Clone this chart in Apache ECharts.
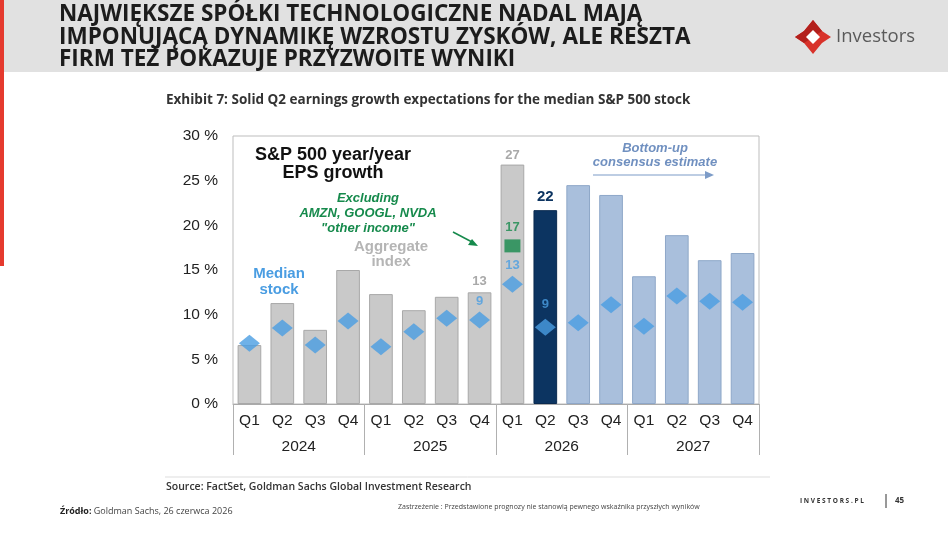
<!DOCTYPE html>
<html><head><meta charset="utf-8">
<script src="https://cdn.jsdelivr.net/npm/echarts@6/dist/echarts.min.js"></script>
<style>html,body{margin:0;padding:0;background:#fff}#c{width:948px;height:533px}</style>
</head><body><div id="c"></div>
<script>
const quarters = ['Q1','Q2','Q3','Q4','Q1','Q2','Q3','Q4','Q1','Q2','Q3','Q4','Q1','Q2','Q3','Q4'];
const years = ['2024','2025','2026','2027'];
const epsGrowth = [6.6, 11.3, 8.3, 15.0, 12.3, 10.5, 12.0, 12.5, 26.8, 21.7, 24.5, 23.4, 14.3, 18.9, 16.1, 16.9];
const medianGrowth = [6.8, 8.5, 6.6, 9.3, 6.4, 8.1, 9.6, 9.4, 13.4, 8.6, 9.1, 11.1, 8.7, 12.1, 11.5, 11.4];
const exclOtherIncome = [null,null,null,null,null,null,null,null,17.7,null,null,null,null,null,null,null];
const barLabels = {7:'13', 8:'27', 9:'22'};
const medianLabels = {7:'9', 8:'13', 9:'9'};
const yTicks = [0,5,10,15,20,25,30];

const GRAY='#c9c9c9', NAVY='#0c3461', LBLUE='#a9bfdc', DIAM='#4a9de2', GREEN='#168a4c';
const F = 'Liberation Sans, Arial, sans-serif';
const OS = '"Open Sans", sans-serif';

const barData = epsGrowth.map((v,i)=>{
  const c = i<=8 ? GRAY : (i===9 ? NAVY : LBLUE);
  const b = i<=8 ? '#a8a8a8' : (i===9 ? '#0a2a50' : '#8ea7c8');
  const item = {value:v, itemStyle:{color:c, borderColor:b, borderWidth:1}};
  if (barLabels[i]) {
    const lc = i===9 ? NAVY : '#a9a9a9';
    item.label = {show:true, position:'top', formatter:barLabels[i], color:lc, fontSize:i===9?15:13, fontWeight:'bold', fontFamily:F, distance:i===8?3:(i===7?4:6)};
  }
  return item;
});
const medData = medianGrowth.map((v,i)=>{
  const item = {value:v};
  if (medianLabels[i]) item.label = {show:true, position:'top', formatter:medianLabels[i], color:DIAM, fontSize:13, fontWeight:'bold', fontFamily:F, distance:i===9?8:4};
  return item;
});
const exData = exclOtherIncome.map((v,i)=>{
  if (v==null) return null;
  return {value:v, label:{show:true, position:'top', formatter:'17', color:GREEN, fontSize:13, fontWeight:'bold', fontFamily:F, distance:5}};
});

const chart = echarts.init(document.getElementById('c'));

function txt(x,y,t,o){ return {type:'text', x:x, y:y, style:Object.assign({text:t, fill:'#222', font:'12px '+F, textVerticalAlign:'middle'}, o||{})}; }

const TF = 'bold 22.5px '+OS;
const graphics = [
  {type:'rect', shape:{x:0,y:0,width:948,height:72}, style:{fill:'#e1e1e1'}, z:-1},
  {type:'rect', shape:{x:0,y:0,width:4,height:266}, style:{fill:'#e53a2e'}},
  txt(59,15,'NAJWIĘKSZE SPÓŁKI TECHNOLOGICZNE NADAL MAJĄ',{fill:'#1c1c1c', font:TF}),
  txt(59,37.5,'IMPONUJĄCĄ DYNAMIKĘ WZROSTU ZYSKÓW, ALE RESZTA',{fill:'#1c1c1c', font:TF}),
  txt(59,60,'FIRM TEŻ POKAZUJE PRZYZWOITE WYNIKI',{fill:'#1c1c1c', font:TF}),
  // logo
  {type:'polygon', shape:{points:[[813,20],[822,31],[831,37],[822,43],[813,54],[804,43],[795,37],[804,31]]}, style:{fill:'#d8322a'}},
  {type:'polygon', shape:{points:[[813,20],[822,31],[813,37],[804,43],[795,37],[804,31]]}, style:{fill:'#b3201c'}},
  {type:'polygon', shape:{points:[[813,30],[820,37],[813,44],[806,37]]}, style:{fill:'#ffffff'}},
  txt(836,37,'Investors',{fill:'#5a5a5a', font:'18.5px '+OS}),
  txt(166,100,'Exhibit 7: Solid Q2 earnings growth expectations for the median S&P 500 stock',{fill:'#333', font:'bold 13.5px '+OS}),
  // annotations
  txt(333,155,'S&P 500 year/year',{fill:'#111', font:'bold 18px '+F, textAlign:'center'}),
  txt(333,173,'EPS growth',{fill:'#111', font:'bold 18px '+F, textAlign:'center'}),
  txt(368,198,'Excluding',{fill:GREEN, font:'italic bold 13px '+F, textAlign:'center'}),
  txt(368,213,'AMZN, GOOGL, NVDA',{fill:GREEN, font:'italic bold 13px '+F, textAlign:'center'}),
  txt(368,228,'"other income"',{fill:GREEN, font:'italic bold 13px '+F, textAlign:'center'}),
  {type:'line', shape:{x1:453,y1:232,x2:472,y2:242}, style:{stroke:GREEN, lineWidth:1.5}},
  {type:'polygon', shape:{points:[[478,246],[468,245],[472,239]]}, style:{fill:GREEN}},
  txt(391,247,'Aggregate',{fill:'#b5b5b5', font:'bold 15px '+F, textAlign:'center'}),
  txt(391,262,'index',{fill:'#b5b5b5', font:'bold 15px '+F, textAlign:'center'}),
  txt(279,274,'Median',{fill:DIAM, font:'bold 15px '+F, textAlign:'center'}),
  txt(279,290,'stock',{fill:DIAM, font:'bold 15px '+F, textAlign:'center'}),
  txt(655,148,'Bottom-up',{fill:'#7090c0', font:'italic bold 13px '+F, textAlign:'center'}),
  txt(655,162,'consensus estimate',{fill:'#7090c0', font:'italic bold 13px '+F, textAlign:'center'}),
  {type:'line', shape:{x1:593,y1:175,x2:706,y2:175}, style:{stroke:'#7d9cc8', lineWidth:1.2}},
  {type:'polygon', shape:{points:[[714,175],[705,171],[705,179]]}, style:{fill:'#7d9cc8'}},
  // footer
  {type:'line', shape:{x1:165,y1:477,x2:770,y2:477}, style:{stroke:'#dddddd', lineWidth:1}},
  txt(166,487,'Source: FactSet, Goldman Sachs Global Investment Research',{fill:'#333', font:'600 10.5px '+OS}),
  {type:'text', x:60, y:511, style:{rich:{b:{font:'bold 9px '+OS, fill:'#222'}, n:{font:'9px '+OS, fill:'#444'}}, text:'{b|Źródło:}{n| Goldman Sachs, 26 czerwca 2026}', textVerticalAlign:'middle'}},
  txt(398,507,'Zastrzeżenie : Przedstawione prognozy nie stanowią pewnego wskaźnika przyszłych wyników',{fill:'#444', font:'7px '+OS}),
  txt(800,501,'I N V E S T O R S . P L',{fill:'#333', font:'bold 6.5px '+OS}),
  {type:'line', shape:{x1:886,y1:494,x2:886,y2:508}, style:{stroke:'#333', lineWidth:1}},
  txt(895,501,'45',{fill:'#333', font:'bold 8px '+OS})
];

chart.setOption({
  animation:false,
  backgroundColor:'#ffffff',
  grid:{left:233, right:189, top:136, bottom:129, show:true, borderColor:'#bdbdbd', borderWidth:1, backgroundColor:'transparent'},
  xAxis:[
    {type:'category', data:quarters, position:'bottom',
     axisLine:{show:true, lineStyle:{color:'#aaaaaa'}}, axisTick:{show:false},
     axisLabel:{color:'#222', fontSize:15.5, fontFamily:F, margin:9, interval:0}},
    {type:'category', data:years, position:'bottom',
     axisLine:{show:false}, axisTick:{show:true, length:51, lineStyle:{color:'#b0b0b0'}},
     axisLabel:{color:'#222', fontSize:15.5, fontFamily:F, margin:35}}
  ],
  yAxis:{type:'value', min:yTicks[0], max:yTicks[yTicks.length-1], interval:5,
    axisLine:{show:false}, axisTick:{show:false}, splitLine:{show:false},
    axisLabel:{color:'#222', fontSize:15.5, fontFamily:F, margin:15, formatter:v=>v+' %'}},
  series:[
    {type:'bar', data:barData, barWidth:'72%', xAxisIndex:0},
    {type:'scatter', data:medData, symbol:'diamond', symbolSize:[21,17], itemStyle:{color:DIAM}, xAxisIndex:0, z:3},
    {type:'scatter', data:exData, symbol:'rect', symbolSize:[16,13], itemStyle:{color:GREEN}, xAxisIndex:0, z:3}
  ],
  graphic:graphics
});
</script></body></html>
